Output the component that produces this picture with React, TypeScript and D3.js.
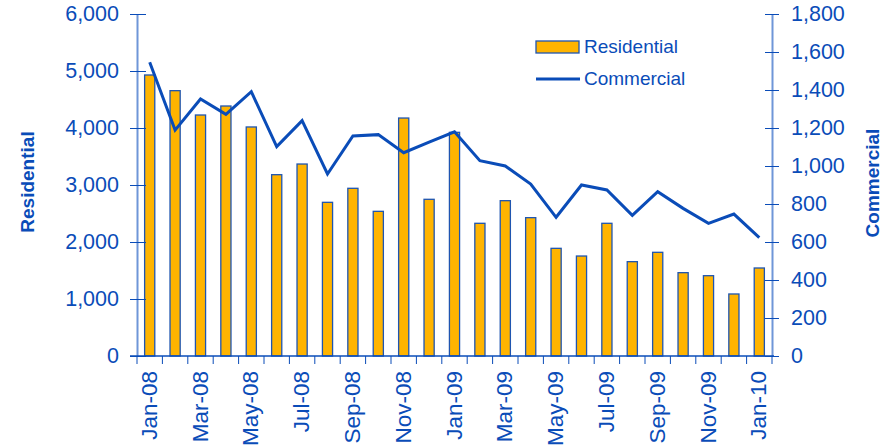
import React, { useEffect, useRef } from 'react';
import * as d3 from 'd3';

const months = [
  'Jan-08', 'Feb-08', 'Mar-08', 'Apr-08', 'May-08', 'Jun-08', 'Jul-08', 'Aug-08', 'Sep-08', 'Oct-08', 'Nov-08', 'Dec-08',
  'Jan-09', 'Feb-09', 'Mar-09', 'Apr-09', 'May-09', 'Jun-09', 'Jul-09', 'Aug-09', 'Sep-09', 'Oct-09', 'Nov-09', 'Dec-09',
  'Jan-10',
];
const residential = [
  4930, 4655, 4228, 4386, 4018, 3181, 3368, 2696, 2942, 2538, 4175, 2749,
  3924, 2328, 2725, 2427, 1889, 1754, 2328, 1655, 1819, 1462, 1409, 1088,
  1544,
];
const commercial = [
  1546, 1189, 1353, 1272, 1391, 1102, 1239, 958, 1158, 1165, 1070, 1126,
  1180, 1028, 1000, 905, 730, 900, 874, 740, 865, 777, 698, 747,
  623,
];
const leftTicks = [0, 1000, 2000, 3000, 4000, 5000, 6000];
const rightTicks = [0, 200, 400, 600, 800, 1000, 1200, 1400, 1600, 1800];

const BLUE = '#0a4cb8';
const AXIS = '#6f96d8';
const GOLD = '#ffb400';
const FONT = '"Liberation Sans", Arial, sans-serif';

const App = () => {
  const svgRef = useRef(null);

  useEffect(() => {
    const W = 896, H = 448;
    const margin = { top: 14, right: 124, bottom: 92, left: 137 };
    const width = W - margin.left - margin.right;
    const height = H - margin.top - margin.bottom;

    const svg = d3.select(svgRef.current);
    svg.selectAll('*').remove();

    const x = d3.scaleBand().domain(months).range([0, width]).paddingInner(0.6).paddingOuter(0.3);
    const yL = d3.scaleLinear().domain([0, 6000]).range([height, 0]);
    const yR = d3.scaleLinear().domain([0, 1800]).range([height, 0]);
    const fmt = d3.format(',');

    const g = svg.append('g').attr('transform', `translate(${margin.left},${margin.top})`);

    // bars
    g.selectAll('rect.bar')
      .data(residential)
      .enter()
      .append('rect')
      .attr('class', 'bar')
      .attr('x', (d, i) => x(months[i]))
      .attr('y', d => yL(d))
      .attr('width', x.bandwidth())
      .attr('height', d => height - yL(d))
      .attr('fill', GOLD)
      .attr('stroke', '#1f55b0')
      .attr('stroke-width', 1.3);

    // line
    const line = d3.line<number>()
      .x((d, i) => x(months[i]) + x.bandwidth() / 2)
      .y(d => yR(d));
    g.append('path')
      .datum(commercial)
      .attr('d', line)
      .attr('fill', 'none')
      .attr('stroke', BLUE)
      .attr('stroke-width', 3);

    // left axis
    const left = g.append('g').call(d3.axisLeft(yL).tickValues(leftTicks).tickFormat(fmt).tickSizeInner(7).tickSizeOuter(0));
    left.select('.domain').attr('stroke', AXIS).attr('stroke-width', 2);
    left.selectAll('.tick line').attr('stroke', BLUE).attr('x2', 9).attr('x1', -7);
    left.selectAll('.tick text')
      .attr('x', -18)
      .attr('fill', BLUE)
      .style('font-family', FONT)
      .style('font-size', '21.5px');

    // right axis
    const right = g.append('g')
      .attr('transform', `translate(${width},0)`)
      .call(d3.axisRight(yR).tickValues(rightTicks).tickFormat(fmt).tickSizeInner(7).tickSizeOuter(0));
    right.select('.domain').attr('stroke', AXIS).attr('stroke-width', 2);
    right.selectAll('.tick line').attr('stroke', BLUE).attr('x1', -7).attr('x2', 7);
    right.selectAll('.tick text')
      .attr('x', 19)
      .attr('fill', BLUE)
      .style('font-family', FONT)
      .style('font-size', '21.5px');

    // bottom axis
    const bottom = g.append('g').attr('transform', `translate(0,${height})`);
    bottom.append('line')
      .attr('x1', -7).attr('x2', width + 2)
      .attr('stroke', BLUE).attr('stroke-width', 1.5);
    const step = x.step();
    const bounds = d3.range(months.length + 1).map(i => x(months[0]) - (step - x.bandwidth()) / 2 + i * step);
    bottom.selectAll('line.xt')
      .data(bounds)
      .enter()
      .append('line')
      .attr('class', 'xt')
      .attr('x1', d => d).attr('x2', d => d)
      .attr('y1', 0).attr('y2', 8)
      .attr('stroke', BLUE).attr('stroke-width', 1);
    bottom.selectAll('text.xl')
      .data(months.filter((m, i) => i % 2 === 0))
      .enter()
      .append('text')
      .attr('class', 'xl')
      .attr('transform', d => `translate(${x(d) + x.bandwidth() / 2 + 7},15) rotate(-90)`)
      .attr('text-anchor', 'end')
      .attr('fill', BLUE)
      .style('font-family', FONT)
      .style('font-size', '22.5px')
      .text(d => d);

    // axis titles
    svg.append('text')
      .attr('transform', `translate(34,182) rotate(-90)`)
      .attr('text-anchor', 'middle')
      .attr('fill', BLUE)
      .style('font-family', FONT)
      .style('font-size', '19px')
      .style('font-weight', 'bold')
      .text('Residential');
    svg.append('text')
      .attr('transform', `translate(879,183) rotate(-90)`)
      .attr('text-anchor', 'middle')
      .attr('fill', BLUE)
      .style('font-family', FONT)
      .style('font-size', '19px')
      .style('font-weight', 'bold')
      .text('Commercial');

    // legend
    const lg = svg.append('g');
    lg.append('rect')
      .attr('x', 536).attr('y', 41).attr('width', 43).attr('height', 12)
      .attr('fill', GOLD).attr('stroke', '#1f55b0').attr('stroke-width', 1.3);
    lg.append('text')
      .attr('x', 584).attr('y', 53)
      .attr('fill', BLUE)
      .style('font-family', FONT)
      .style('font-size', '19px')
      .text('Residential');
    lg.append('line')
      .attr('x1', 536).attr('x2', 580).attr('y1', 79).attr('y2', 79)
      .attr('stroke', BLUE).attr('stroke-width', 3);
    lg.append('text')
      .attr('x', 584).attr('y', 85)
      .attr('fill', BLUE)
      .style('font-family', FONT)
      .style('font-size', '19px')
      .text('Commercial');
  }, []);

  return <svg ref={svgRef} width={896} height={448} style={{ position: 'absolute', left: 0, top: 0 }}></svg>;
};

export default App;
